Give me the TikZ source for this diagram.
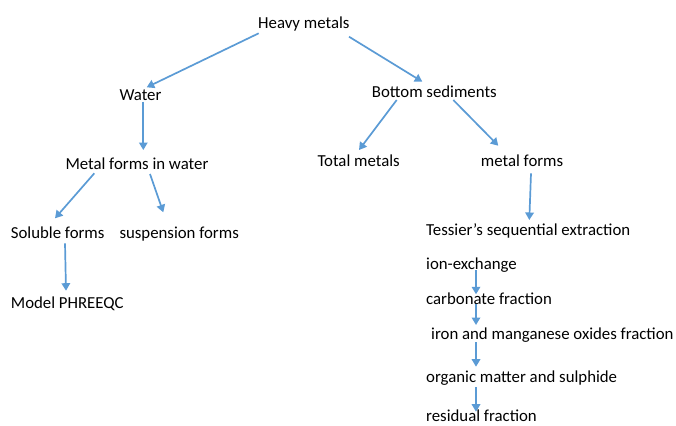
\documentclass[tikz,border=0pt]{standalone}
\usepackage{fontspec}
\setmainfont{Carlito}
\usetikzlibrary{arrows.meta}
\definecolor{arrblue}{RGB}{91,155,213}
\tikzset{
    lbl/.style={anchor=base west, inner sep=0pt, font=\fontsize{16.8}{20}\selectfont},
    arr/.style={draw=arrblue, line width=1.7pt, -{Triangle[length=7.5pt,width=8.5pt]}}
}
\begin{document}
\begin{tikzpicture}
    [x=1pt,y=-1pt]
    \useasboundingbox (0,0) rectangle (676,425);
    %tree
    \node[lbl] (heavy) at (258,29) {Heavy metals};
    \node[lbl] (water) at (119.3,100) {Water};
    \node[lbl] (bottom) at (371.7,97) {Bottom sediments};
    \node[lbl] (formsw) at (65.3,169) {Metal forms in water};
    \node[lbl] (total) at (317.3,166) {Total metals};
    \node[lbl] (formss) at (480.7,166) {metal forms};
    \node[lbl] (soluble) at (10.7,238) {Soluble forms};
    \node[lbl] (susp) at (119.3,238) {suspension forms};
    \node[lbl] (model) at (10.7,308) {Model PHREEQC};
    %sequential extraction
    \node[lbl] (tessier) at (426,235) {Tessier’s sequential extraction};
    \node[lbl] (ionex) at (426,269) {ion-exchange};
    \node[lbl] (carb) at (426,304) {carbonate fraction};
    \node[lbl] (iron) at (431,339) {iron and manganese oxides fraction};
    \node[lbl] (organic) at (426,382) {organic matter and sulphide};
    \node[lbl] (resid) at (426,421.5) {residual fraction};
    %arrows
    \draw[arr] ([xshift=0.7pt,yshift=-4.3pt]heavy.base west) -- ([xshift=27.4pt,yshift=12.7pt]water.base west);
    \draw[arr] ([xshift=91pt,yshift=-7.7pt]heavy.base west) -- ([xshift=50.6pt,yshift=15.3pt]bottom.base west);
    \draw[arr] ([xshift=24pt,yshift=-1.7pt]water.base west) -- ([xshift=78pt,yshift=19pt]formsw.base west);
    \draw[arr] ([xshift=29pt,yshift=-4.3pt]formsw.base west) -- ([xshift=44.3pt,yshift=19.7pt]soluble.base west);
    \draw[arr] ([xshift=84.7pt,yshift=-5pt]formsw.base west) -- ([xshift=44pt,yshift=25.7pt]susp.base west);
    \draw[arr] ([xshift=25pt,yshift=-3pt]bottom.base west) -- ([xshift=41.7pt,yshift=16pt]total.base west);
    \draw[arr] ([xshift=81.6pt,yshift=-3pt]bottom.base west) -- ([xshift=17.6pt,yshift=20.3pt]formss.base west);
    \draw[arr] ([xshift=50.3pt,yshift=-7.3pt]formss.base west) -- ([xshift=103.3pt,yshift=15pt]tessier.base west);
    \draw[arr] ([xshift=54.3pt,yshift=-5.3pt]soluble.base west) -- ([xshift=55.3pt,yshift=17.3pt]model.base west);
    \draw[arr] ([xshift=50pt,yshift=-1pt]ionex.base west) -- ([xshift=50pt,yshift=9.7pt]carb.base west);
    \draw[arr] ([xshift=50pt,yshift=-0.3pt]carb.base west) -- ([xshift=45pt,yshift=14pt]iron.base west);
    \draw[arr] ([xshift=45pt,yshift=-3.3pt]iron.base west) -- ([xshift=50pt,yshift=15.3pt]organic.base west);
    \draw[arr] ([xshift=50pt,yshift=-5.3pt]organic.base west) -- ([xshift=50pt,yshift=9.8pt]resid.base west);
\end{tikzpicture}
\end{document}
